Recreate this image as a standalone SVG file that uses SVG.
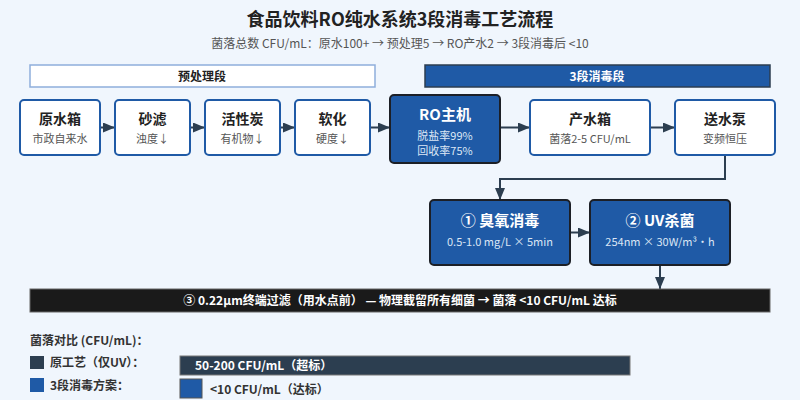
<svg xmlns="http://www.w3.org/2000/svg" width="800" height="400" viewBox="0 0 800 400">
<defs>
<marker id="arr" markerUnits="userSpaceOnUse" markerWidth="12" markerHeight="10" refX="12" refY="5" orient="auto">
<path d="M0,0 L12,5 L0,10 z" fill="#2c3e50"/>
</marker>
<style>
text{font-family:"Noto Sans CJK SC","Noto Sans",sans-serif;}
.title{font-size:18px;font-weight:bold;fill:#222;text-anchor:middle;}
.subtitle{font-size:12px;fill:#555;text-anchor:middle;}
.hdr{font-size:12px;font-weight:bold;text-anchor:middle;}
.box{fill:#fff;stroke:#1f5aa6;stroke-width:2;}
.dbox{fill:#1f5aa6;stroke:#1c1f26;stroke-width:2;}
.nt{font-size:14px;font-weight:bold;fill:#222;text-anchor:middle;}
.ns{font-size:11px;fill:#555;text-anchor:middle;}
.dt{font-size:15px;font-weight:bold;fill:#fff;text-anchor:middle;}
.ds{font-size:11px;fill:#dce6f5;text-anchor:middle;}
.conn{fill:none;stroke:#2c3e50;stroke-width:2;marker-end:url(#arr);}
.leg{font-size:12px;font-weight:bold;fill:#333;}
</style>
</defs>
<rect width="800" height="400" fill="#f0f6fd"/>
<text class="title" x="400" y="26">食品饮料RO纯水系统3段消毒工艺流程</text>
<text class="subtitle" x="400" y="48">菌落总数 CFU/mL：原水100+ → 预处理5 → RO产水2 → 3段消毒后 &lt;10</text>

<g id="stage-pre">
<rect x="30" y="65" width="345" height="22" fill="#fff" stroke="#8eaedb" stroke-width="1.5"/>
<text class="hdr" x="202" y="81" fill="#222">预处理段</text>
</g>
<g id="stage-dis">
<rect x="425" y="65" width="345" height="22" fill="#1f5aa6" stroke="#2c3e50" stroke-width="1.5"/>
<text class="hdr" x="597" y="81" fill="#fff">3段消毒段</text>
</g>

<g id="connectors">
<line class="conn" x1="101" y1="127.5" x2="115" y2="127.5"/>
<line class="conn" x1="191" y1="127.5" x2="205" y2="127.5"/>
<line class="conn" x1="281" y1="127.5" x2="295" y2="127.5"/>
<line class="conn" x1="371" y1="127.5" x2="390" y2="127.5"/>
<line class="conn" x1="501" y1="127.5" x2="530" y2="127.5"/>
<line class="conn" x1="651" y1="127.5" x2="675" y2="127.5"/>
<path class="conn" d="M725 156 V179 H500 V200"/>
<line class="conn" x1="571" y1="232.5" x2="590" y2="232.5"/>
<line class="conn" x1="660" y1="266" x2="660" y2="289"/>
</g>

<g id="raw-tank">
<rect class="box" x="20" y="100" width="80" height="55" rx="4"/>
<text class="nt" x="60" y="124">原水箱</text>
<text class="ns" x="60" y="143">市政自来水</text>
</g>
<g id="sand">
<rect class="box" x="115" y="100" width="75" height="55" rx="4"/>
<text class="nt" x="152.5" y="124">砂滤</text>
<text class="ns" x="152.5" y="143">浊度↓</text>
</g>
<g id="carbon">
<rect class="box" x="205" y="100" width="75" height="55" rx="4"/>
<text class="nt" x="242.5" y="124">活性炭</text>
<text class="ns" x="242.5" y="143">有机物↓</text>
</g>
<g id="soften">
<rect class="box" x="295" y="100" width="75" height="55" rx="4"/>
<text class="nt" x="332.5" y="124">软化</text>
<text class="ns" x="332.5" y="143">硬度↓</text>
</g>
<g id="ro">
<rect class="dbox" x="390" y="95" width="110" height="68" rx="4"/>
<text class="dt" x="445" y="120">RO主机</text>
<text class="ds" x="445" y="140">脱盐率99%</text>
<text class="ds" x="445" y="155">回收率75%</text>
</g>
<g id="product-tank">
<rect class="box" x="530" y="100" width="120" height="55" rx="4"/>
<text class="nt" x="590" y="124">产水箱</text>
<text class="ns" x="590" y="143">菌落2-5 CFU/mL</text>
</g>
<g id="pump">
<rect class="box" x="675" y="100" width="100" height="55" rx="4"/>
<text class="nt" x="725" y="124">送水泵</text>
<text class="ns" x="725" y="143">变频恒压</text>
</g>
<g id="ozone">
<rect class="dbox" x="430" y="200" width="140" height="65" rx="4"/>
<text class="dt" x="500" y="226">① 臭氧消毒</text>
<text class="ds" x="500" y="246">0.5-1.0 mg/L × 5min</text>
</g>
<g id="uv">
<rect class="dbox" x="590" y="200" width="140" height="65" rx="4"/>
<text class="dt" x="660" y="226">② UV杀菌</text>
<text class="ds" x="660" y="246">254nm × 30W/m³・h</text>
</g>
<g id="filter">
<rect x="30" y="289" width="740" height="23" fill="#1a1a1a" stroke="#666" stroke-width="1"/>
<text x="400" y="305" font-size="12" font-weight="bold" fill="#fff" text-anchor="middle">③ 0.22μm终端过滤（用水点前） — 物理截留所有细菌 → 菌落 &lt;10 CFU/mL 达标</text>
</g>

<g id="legend">
<text class="leg" x="30" y="345">菌落对比 (CFU/mL)：</text>
<rect x="30" y="356" width="14" height="13" fill="#2c3e50"/>
<text class="leg" x="50" y="367">原工艺（仅UV）：</text>
<rect x="180" y="356" width="450" height="19" fill="#2c3e50" stroke="#777" stroke-width="1"/>
<text x="195" y="370" font-size="12" font-weight="bold" fill="#fff">50-200 CFU/mL（超标）</text>
<rect x="30" y="378" width="14" height="14" fill="#1f5aa6"/>
<text class="leg" x="50" y="390">3段消毒方案：</text>
<rect x="180" y="379" width="22" height="19" fill="#1f5aa6" stroke="#555" stroke-width="1"/>
<text class="leg" x="210" y="394">&lt;10 CFU/mL（达标）</text>
</g>
</svg>
